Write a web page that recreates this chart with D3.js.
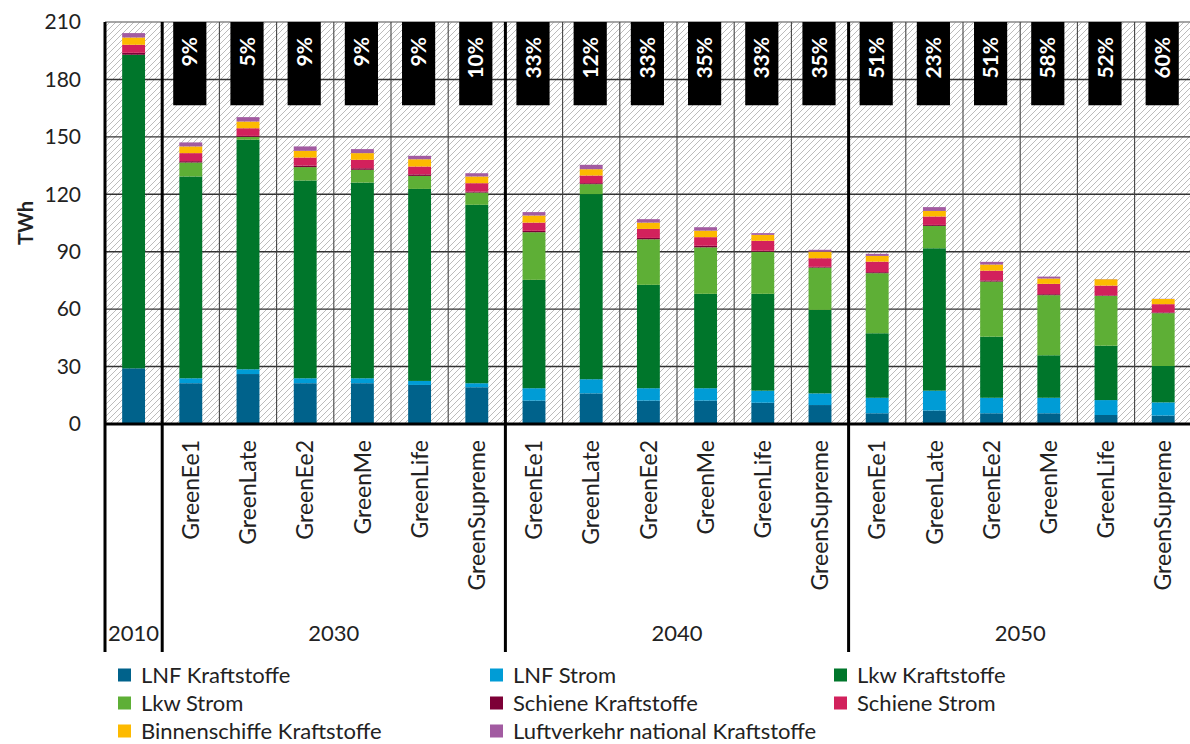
<!DOCTYPE html>
<html>
<head>
<meta charset="utf-8">
<script src="https://cdn.jsdelivr.net/npm/d3@7"></script>
<style>
  body { margin: 0; background: #fff; }
  svg text { font-family: Lato, "Open Sans", sans-serif; fill: #222; }
</style>
</head>
<body>
<div class="mainVis"></div>
<script>
// scenario per column, and the year group each column belongs to
var scenarios = ["", "GreenEe1", "GreenLate", "GreenEe2", "GreenMe", "GreenLife", "GreenSupreme",
  "GreenEe1", "GreenLate", "GreenEe2", "GreenMe", "GreenLife", "GreenSupreme",
  "GreenEe1", "GreenLate", "GreenEe2", "GreenMe", "GreenLife", "GreenSupreme"]
var years = ["2010", "2030", "2030", "2030", "2030", "2030", "2030",
  "2040", "2040", "2040", "2040", "2040", "2040",
  "2050", "2050", "2050", "2050", "2050", "2050"]
var yearGroups = ["2010", "2030", "2040", "2050"]

// TWh per series
var lnfKraftstoffe   = [29.1, 21.3, 26.1, 21.3, 21.3, 20.4, 19.2, 12.2, 16.0, 12.2, 12.2, 11.1, 9.9, 5.6, 7.0, 5.6, 5.6, 4.7, 4.4]
var lnfStrom         = [0, 2.6, 2.5, 2.6, 2.6, 2.1, 2.1, 6.5, 7.4, 6.5, 6.5, 6.3, 6.1, 8.1, 10.4, 8.1, 8.1, 7.8, 6.9]
var lkwKraftstoffe   = [163.8, 105.4, 119.9, 103.3, 102.2, 100.3, 93.2, 56.6, 96.7, 54.0, 49.3, 50.6, 43.6, 33.7, 74.4, 31.9, 22.2, 28.4, 19.0]
var lkwStrom         = [0, 7.3, 1.5, 7.0, 6.7, 6.8, 6.4, 24.9, 5.2, 23.8, 24.3, 22.0, 22.1, 31.4, 11.7, 28.8, 31.4, 26.0, 27.6]
var schieneKraftst   = [1.0, 0.7, 0.5, 0.8, 0.8, 0.8, 0.5, 0.7, 0.5, 0.7, 0.8, 0.5, 0.4, 0.5, 0.5, 0.6, 0.5, 0.3, 0.4]
var schieneStrom     = [4.2, 4.2, 4.0, 4.2, 4.4, 4.1, 4.4, 4.3, 4.0, 4.7, 4.5, 5.2, 4.5, 5.5, 4.4, 5.1, 5.4, 5.1, 4.3]
var binnenschiffe    = [3.8, 3.5, 3.5, 3.5, 3.5, 3.8, 3.5, 3.7, 3.3, 3.3, 3.4, 3.1, 3.4, 3.0, 2.9, 3.2, 2.8, 3.3, 2.7]
var luftverkehr      = [2.3, 2.1, 2.3, 2.3, 2.1, 1.8, 1.7, 1.8, 2.3, 1.8, 1.8, 0.9, 1.0, 1.1, 2.0, 1.4, 1.0, 0.1, 0.1]

// share label in the black boxes
var shares = [null, "9%", "5%", "9%", "9%", "9%", "10%", "33%", "12%", "33%", "35%", "33%", "35%",
  "51%", "23%", "51%", "58%", "52%", "60%"]

var seriesNames = ["LNF Kraftstoffe", "LNF Strom", "Lkw Kraftstoffe", "Lkw Strom",
  "Schiene Kraftstoffe", "Schiene Strom", "Binnenschiffe Kraftstoffe", "Luftverkehr national Kraftstoffe"]
var seriesValues = [lnfKraftstoffe, lnfStrom, lkwKraftstoffe, lkwStrom, schieneKraftst, schieneStrom, binnenschiffe, luftverkehr]

var yTicks = [0, 30, 60, 90, 120, 150, 180, 210]

var colorMap = {
  "LNF Kraftstoffe": "#00628B",
  "LNF Strom": "#009CD6",
  "Lkw Kraftstoffe": "#00762B",
  "Lkw Strom": "#5EAF36",
  "Schiene Kraftstoffe": "#7D0036",
  "Schiene Strom": "#D2215C",
  "Binnenschiffe Kraftstoffe": "#FDBA00",
  "Luftverkehr national Kraftstoffe": "#A25BA1"
}

var svgW = 1190, svgH = 744
var plotLeft = 105, plotTop = 22, plotBottom = 424, colW = 57.2

var rows = scenarios.map(function(s, i) {
  var r = { id: years[i] + "|" + s, year: years[i], scenario: s, share: shares[i] }
  seriesNames.forEach(function(n, k) { r[n] = seriesValues[k][i] })
  return r
})

var x = d3.scaleBand()
  .domain(rows.map(function(d) { return d.id }))
  .range([plotLeft, plotLeft + colW * rows.length])
var y = d3.scaleLinear().domain([0, 210]).range([plotBottom, plotTop])

var canvas = d3.select(".mainVis").append("svg")
  .attr("width", svgW)
  .attr("height", svgH)

var defs = canvas.append("defs")
var pat = defs.append("pattern")
  .attr("id", "hatch")
  .attr("patternUnits", "userSpaceOnUse")
  .attr("width", 6).attr("height", 6)
pat.append("rect").attr("width", 6).attr("height", 6).attr("fill", "#fff")
pat.append("path")
  .attr("d", "M-1,1 l2,-2 M0,6 l6,-6 M5,7 l2,-2")
  .attr("stroke", "#b4b4b4")
  .attr("stroke-width", 0.9)

var plotRight = x.range()[1]

canvas.append("rect")
  .attr("x", plotLeft).attr("y", plotTop)
  .attr("width", plotRight - plotLeft).attr("height", plotBottom - plotTop)
  .attr("fill", "url(#hatch)")

// horizontal grid
canvas.append("g").selectAll("line")
  .data(yTicks.slice(1))
  .enter().append("line")
  .attr("x1", plotLeft).attr("x2", plotRight)
  .attr("y1", function(d) { return y(d) }).attr("y2", function(d) { return y(d) })
  .attr("stroke", function(d) { return d == 210 ? "#888" : "#333" })
  .attr("stroke-width", 1.4)

// thin column separators
canvas.append("g").selectAll("line")
  .data(rows.slice(1))
  .enter().append("line")
  .attr("x1", function(d) { return x(d.id) }).attr("x2", function(d) { return x(d.id) })
  .attr("y1", plotTop).attr("y2", plotBottom)
  .attr("stroke", "#444")
  .attr("stroke-width", 1.1)

// stacked bars
var stack = d3.stack().keys(seriesNames)
var layers = stack(rows)
var barW = x.bandwidth() * 0.4

canvas.append("g").selectAll("g")
  .data(layers)
  .enter().append("g")
  .attr("fill", function(d) { return colorMap[d.key] })
  .selectAll("rect")
  .data(function(d) { return d })
  .enter().append("rect")
  .attr("x", function(d) { return x(d.data.id) + (x.bandwidth() - barW) / 2 })
  .attr("width", barW)
  .attr("y", function(d) { return y(d[1]) })
  .attr("height", function(d) { return Math.max(0, y(d[0]) - y(d[1])) })

// share boxes
var boxW = x.bandwidth() * 0.58
var withShare = rows.filter(function(d) { return d.share })
canvas.append("g").selectAll("rect")
  .data(withShare)
  .enter().append("rect")
  .attr("x", function(d) { return x(d.id) + (x.bandwidth() - boxW) / 2 - 1 })
  .attr("width", boxW)
  .attr("y", y(210))
  .attr("height", y(166.5) - y(210))
  .attr("fill", "#000")

canvas.append("g").selectAll("text")
  .data(withShare)
  .enter().append("text")
  .attr("transform", function(d) {
    return "translate(" + (x(d.id) + x.bandwidth() / 2 - 1) + "," + (y(210) + 15) + ") rotate(-90)"
  })
  .attr("text-anchor", "end")
  .attr("dy", "0.36em")
  .style("font-size", "21px")
  .style("font-weight", "bold")
  .style("fill", "#fff")
  .text(function(d) { return d.share })

// x axis line
canvas.append("line")
  .attr("x1", plotLeft).attr("x2", plotRight)
  .attr("y1", plotBottom).attr("y2", plotBottom)
  .attr("stroke", "#000").attr("stroke-width", 3)

// group separators
var groupStarts = yearGroups.map(function(g) {
  return rows.filter(function(d) { return d.year == g })
})
var sepX = groupStarts.map(function(g) { return x(g[0].id) })
canvas.append("g").selectAll("line")
  .data(sepX)
  .enter().append("line")
  .attr("x1", function(d) { return d }).attr("x2", function(d) { return d })
  .attr("y1", plotTop).attr("y2", 652)
  .attr("stroke", "#000").attr("stroke-width", 3)

// scenario labels
canvas.append("g").selectAll("text")
  .data(rows.filter(function(d) { return d.scenario }))
  .enter().append("text")
  .attr("transform", function(d) {
    return "translate(" + (x(d.id) + x.bandwidth() / 2) + "," + (plotBottom + 16) + ") rotate(-90)"
  })
  .attr("text-anchor", "end")
  .attr("dy", "0.36em")
  .style("font-size", "23px")
  .text(function(d) { return d.scenario })

// year labels
canvas.append("g").selectAll("text")
  .data(groupStarts)
  .enter().append("text")
  .attr("x", function(g) { return (x(g[0].id) + x(g[g.length - 1].id) + x.bandwidth()) / 2 })
  .attr("y", 641)
  .attr("text-anchor", "middle")
  .style("font-size", "22px")
  .text(function(g) { return g[0].year })

// y axis
var yAxis = canvas.append("g")
  .attr("transform", "translate(" + plotLeft + ",0)")
  .call(d3.axisLeft(y).tickValues(yTicks).tickSize(0).tickPadding(24))
yAxis.select(".domain").remove()
yAxis.selectAll("text")
  .style("font-size", "21px")
  .style("font-family", "Lato, 'Open Sans', sans-serif")
  .attr("fill", "#222")

canvas.append("text")
  .attr("transform", "translate(26," + y(105) + ") rotate(-90)")
  .attr("text-anchor", "middle")
  .attr("dy", "0.35em")
  .style("font-size", "20px")
  .style("font-weight", "bold")
  .text("TWh")

// legend, three columns
var legX = [118, 490, 834]
var legend = canvas.append("g").selectAll("g")
  .data(seriesNames)
  .enter().append("g")
  .attr("transform", function(d, i) {
    return "translate(" + legX[i % 3] + "," + (675 + Math.floor(i / 3) * 28) + ")"
  })
legend.append("rect")
  .attr("x", 0).attr("y", -6.5)
  .attr("width", 13).attr("height", 13)
  .attr("fill", function(d) { return colorMap[d] })
legend.append("text")
  .attr("x", 23).attr("dy", "0.35em")
  .style("font-size", "22px")
  .text(function(d) { return d })
</script>
</body>
</html>
